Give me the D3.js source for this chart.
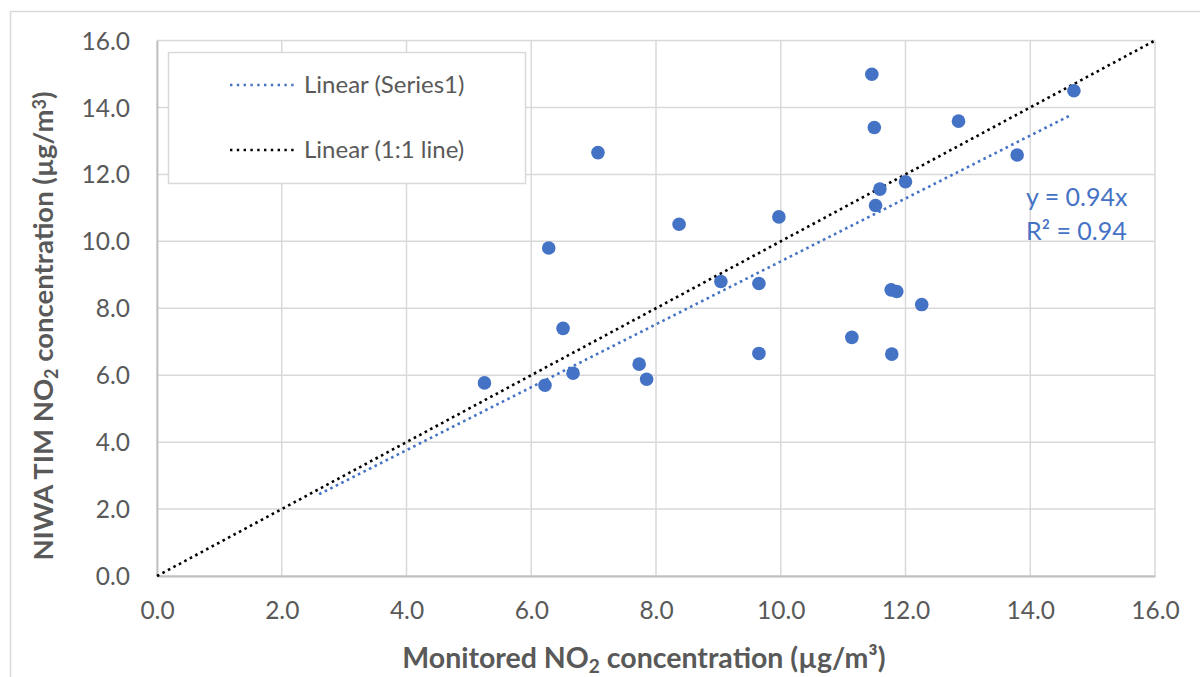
<!DOCTYPE html>
<html>
<head>
<meta charset="utf-8">
<script src="https://cdn.jsdelivr.net/npm/d3@7"></script>
<style>
  html, body { margin: 0; padding: 0; background: #fff; }
  svg { display: block; font-family: Lato, "Liberation Sans", sans-serif; }
</style>
</head>
<body>
<svg id="chart" width="1200" height="677"></svg>
<script>
// ---- data ----
const monitored = [5.25, 6.22, 6.67, 6.28, 6.51, 7.07, 7.73, 7.85, 8.37, 9.97, 9.04, 9.65, 9.65,
                   11.46, 11.50, 11.59, 11.52, 12.00, 12.85, 13.79, 14.70, 11.77, 11.86, 12.26, 11.14, 11.78];
const niwaTim   = [5.77, 5.70, 6.06, 9.80, 7.40, 12.65, 6.33, 5.88, 10.51, 10.73, 8.80, 8.74, 6.65,
                   14.99, 13.40, 11.56, 11.07, 11.78, 13.59, 12.58, 14.50, 8.55, 8.50, 8.11, 7.13, 6.63];
const tickValues = [0, 2, 4, 6, 8, 10, 12, 14, 16];
const trendSlope = 0.94;
const trendXRange = [2.6, 14.65];
const oneToOneRange = [0, 16];
const legendLabels = ["Linear (Series1)", "Linear (1:1 line)"];
const equationLines = ["y = 0.94x", "R² = 0.94"];

// ---- layout ----
const svg = d3.select("#chart");
const x = d3.scaleLinear().domain([0, 16]).range([157, 1155]);
const y = d3.scaleLinear().domain([0, 16]).range([576, 40.5]);
const gridColor = "#d9d9d9";
const textColor = "#595959";
const blue = "#4472C4";

// outer chart border
svg.append("rect").attr("x", 10.5).attr("y", 11.5).attr("width", 1200).attr("height", 700)
  .attr("fill", "none").attr("stroke", gridColor).attr("stroke-width", 1.5);

// gridlines
svg.append("g").selectAll("line.v").data(tickValues).join("line")
  .attr("x1", d => x(d)).attr("x2", d => x(d)).attr("y1", y(16)).attr("y2", y(0))
  .attr("stroke", gridColor).attr("stroke-width", 1.5);
svg.append("g").selectAll("line.h").data(tickValues).join("line")
  .attr("y1", d => y(d)).attr("y2", d => y(d)).attr("x1", x(0)).attr("x2", x(16))
  .attr("stroke", gridColor).attr("stroke-width", 1.5);

// axes (labels via d3 axis)
const fmt = d3.format(".1f");
const xAxis = svg.append("g").attr("transform", `translate(0,${y(0)})`)
  .call(d3.axisBottom(x).tickValues(tickValues).tickFormat(fmt).tickSize(0).tickPadding(26));
const yAxis = svg.append("g").attr("transform", `translate(${x(0)},0)`)
  .call(d3.axisLeft(y).tickValues(tickValues).tickFormat(fmt).tickSize(0).tickPadding(27));
[xAxis, yAxis].forEach(a => {
  a.select(".domain").attr("stroke", "#bfbfbf").attr("stroke-width", 1.8);
  a.selectAll("text").attr("fill", textColor).style("font-size", "24.5px").style("font-family", "Lato, sans-serif");
});
yAxis.selectAll("text").attr("dy", "0.35em");

// 1:1 line
svg.append("line")
  .attr("x1", x(oneToOneRange[0])).attr("y1", y(oneToOneRange[0]))
  .attr("x2", x(oneToOneRange[1])).attr("y2", y(oneToOneRange[1]))
  .attr("stroke", "#000").attr("stroke-width", 2.6)
  .attr("stroke-dasharray", "2.6 3.6");

// trendline
svg.append("line")
  .attr("x1", x(trendXRange[0])).attr("y1", y(trendSlope * trendXRange[0]))
  .attr("x2", x(trendXRange[1])).attr("y2", y(trendSlope * trendXRange[1]))
  .attr("stroke", blue).attr("stroke-width", 2.6)
  .attr("stroke-dasharray", "2.6 3.6");

// points
svg.append("g").selectAll("circle").data(monitored).join("circle")
  .attr("cx", d => x(d)).attr("cy", (d, i) => y(niwaTim[i])).attr("r", 6.8)
  .attr("fill", blue);

// equation
svg.append("g").selectAll("text").data(equationLines).join("text")
  .attr("x", 1026).attr("y", (d, i) => 197 + i * 34).attr("dy", "0.35em")
  .attr("fill", blue).style("font-size", "25px").text(d => d);

// legend
const lg = svg.append("g");
lg.append("rect").attr("x", 168.5).attr("y", 52.5).attr("width", 357).attr("height", 131)
  .attr("fill", "#fff").attr("stroke", gridColor).attr("stroke-width", 1.5);
const legendColors = [blue, "#000"];
legendLabels.forEach((lab, i) => {
  const yy = 85 + i * 65;
  lg.append("line").attr("x1", 230).attr("x2", 294).attr("y1", yy).attr("y2", yy)
    .attr("stroke", legendColors[i]).attr("stroke-width", 2.4).attr("stroke-dasharray", "2.4 4.4");
  lg.append("text").attr("x", 304).attr("y", yy).attr("dy", "0.35em")
    .attr("fill", textColor).style("font-size", "24px").text(lab);
});

// axis titles
const xt = svg.append("text").attr("x", 644).attr("y", 658).attr("dy", "0.35em")
  .attr("text-anchor", "middle").attr("fill", textColor)
  .style("font-size", "28.5px").style("font-weight", "bold");
xt.append("tspan").text("Monitored NO");
xt.append("tspan").attr("baseline-shift", "-25%").style("font-size", "19px").text("2");
xt.append("tspan").text(" concentration (µg/m³)");

const yt = svg.append("text").attr("transform", "translate(43,326) rotate(-90)").attr("dy", "0.35em")
  .attr("text-anchor", "middle").attr("fill", textColor)
  .style("font-size", "27.5px").style("font-weight", "bold");
yt.append("tspan").text("NIWA TIM NO");
yt.append("tspan").attr("baseline-shift", "-25%").style("font-size", "18px").text("2");
yt.append("tspan").text(" concentration (µg/m");
yt.append("tspan").attr("baseline-shift", "40%").style("font-size", "18px").text("3");
yt.append("tspan").text(")");
</script>
</body>
</html>
